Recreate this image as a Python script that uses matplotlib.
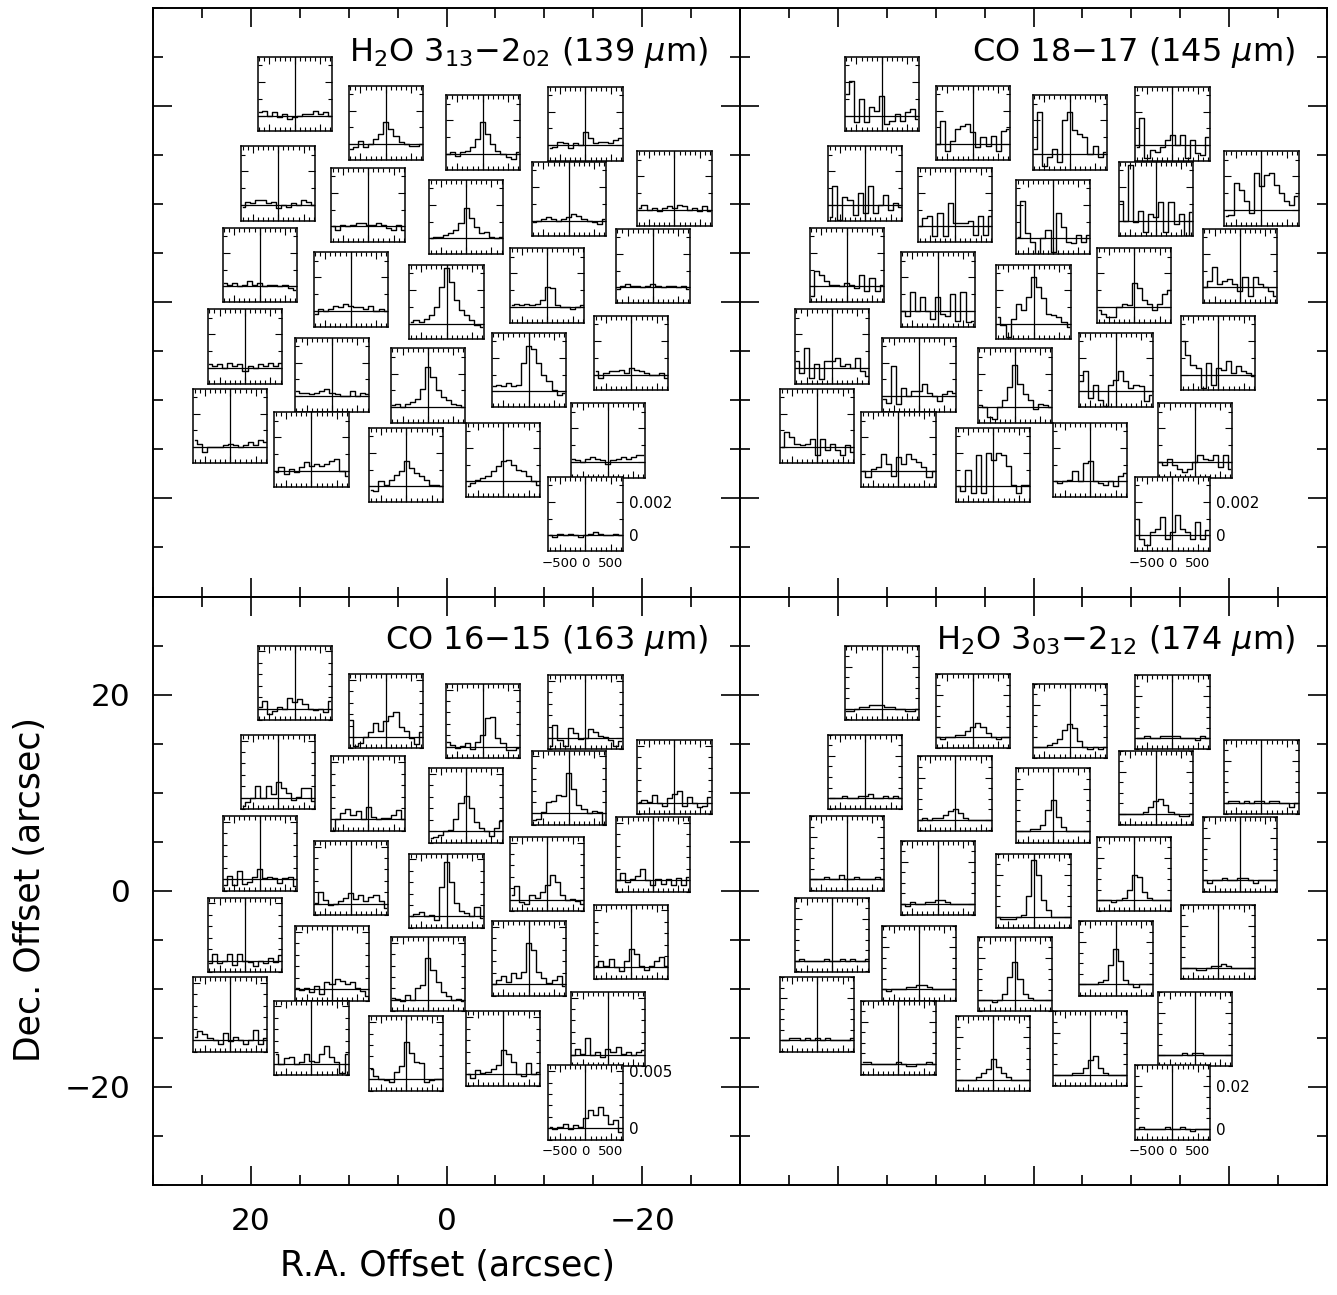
import numpy as np
import matplotlib.pyplot as plt
from matplotlib.ticker import MultipleLocator

# velocity channels (km/s)
vel = [-700, -600, -500, -400, -300, -200, -100, 0, 100, 200, 300, 400, 500, 600, 700]

# spaxel centres, offsets in arcsec (same footprint in all four maps)
ra_off = [15.5, 6.2, -3.7, -14.2, 17.2, 8.0, -2.0, -12.5, -23.3, 19.1, 9.8, 0.0, -10.3,
          -21.1, 20.6, 11.7, 1.9, -8.4, -18.9, 22.1, 13.8, 4.1, -5.8, -16.5, -14.2]
dec_off = [21.2, 18.3, 17.3, 18.2, 12.1, 9.9, 8.7, 10.5, 11.6, 3.8, 1.3, 0.0, 1.7,
           3.7, -4.5, -7.4, -8.5, -6.9, -5.2, -12.6, -15.0, -16.6, -16.1, -14.1, -21.6]

# spectra per spaxel (units of 1e-4 Jy, last map in 1e-3 Jy)
h2o_139 = [
    [2, 3, 0, 2, -1, 1, -2, -1, 0, 1, 1, 3, 1, 2, 0],
    [-3, -2, 2, -2, 0, 3, 6, 13, 9, 5, 1, 0, -1, -1, 0],
    [0, 1, -1, 1, 2, 4, 9, 19, 12, 6, 2, 0, -2, -3, 1],
    [-2, -1, 2, 1, -2, 1, 0, 8, 4, 1, 2, 2, 1, 3, 4],
    [-1, 2, 1, 3, 3, 1, 2, -2, 0, -1, 1, 0, 3, 2, 0],
    [0, -2, 1, 0, 1, 2, 2, 1, 1, 2, 1, -1, -2, 1, -2],
    [0, 1, 1, 2, 3, 5, 9, 18, 12, 7, 3, 4, 1, 0, 1],
    [-1, 0, 1, 2, 1, 0, 1, 2, 4, 3, 1, 0, -1, -2, 1],
    [1, 3, 0, 1, -1, 1, 2, 1, 3, 2, 0, 1, -1, 2, -1],
    [2, 1, 2, 0, 1, 3, 1, 2, 0, 1, 1, 0, 1, -1, -2],
    [-2, 1, 0, 1, 3, 2, 4, 3, 2, 2, 1, 3, 0, 1, 0],
    [1, 2, 1, 3, 5, 10, 22, 33, 25, 14, 8, 5, 2, -1, -2],
    [1, 2, 1, 2, 1, 2, 4, 12, 11, 1, 0, 0, -1, 0, 1],
    [-1, 1, 2, 1, 1, 0, 1, 2, 1, 0, 1, 1, 0, 1, -1],
    [2, 1, 2, 0, 3, 1, 2, -2, 1, 0, 2, 1, 3, 1, 3],
    [3, 2, 2, 1, 2, 3, 4, 2, 1, 0, 0, 3, 0, 2, 1],
    [1, 2, 0, 2, 3, 5, 11, 24, 18, 10, 6, 4, 2, 1, 0],
    [3, 4, 3, 5, 3, 4, 17, 27, 25, 17, 10, 6, 1, -2, -1],
    [2, -2, 1, 2, 2, 3, 1, 4, 3, 2, 1, 0, 0, 1, -2],
    [4, 2, -3, 0, 0, 0, 1, 2, 1, 0, 1, 3, 1, 4, 3],
    [-1, 2, -2, 1, -1, 2, 5, 3, 4, 3, 4, 6, 7, 0, -3],
    [-2, -3, 3, 1, 4, 7, 9, 15, 11, 8, 6, 4, 1, 1, 0],
    [-3, -1, 1, 2, 3, 6, 9, 12, 13, 10, 7, 6, 3, 0, -2],
    [2, 1, 0, 2, 3, 2, 1, -1, 1, 2, 3, 2, 3, 4, 4],
    [0, -1, 1, 0, 1, 0, -1, 0, 1, 2, 1, 0, 0, 1, 0],
]
co_1817 = [
    [13, 21, -4, 10, -4, 5, 3, 12, -5, -3, 1, -3, 2, 4, -2],
    [0, 14, -4, 2, 9, 11, 12, 7, -2, 4, -1, 5, -4, 8, 9],
    [3, 25, -7, -2, 3, -5, 20, 25, 14, 12, 10, 0, 5, -2, 1],
    [-1, 16, -8, -3, -4, -1, 3, 6, 0, 6, -8, 3, -5, -6, 5],
    [-7, 11, -9, 5, 3, -6, 7, -5, 11, -5, 0, 6, -3, 1, -1],
    [0, 5, 6, -6, 8, -6, 14, 2, 2, 2, 3, -5, 6, -5, 6],
    [1, 22, 3, -2, -10, 0, 5, -8, 15, 7, -2, -3, 2, -2, 2],
    [12, 0, 33, -1, 6, -7, 4, 2, 11, -7, 11, -2, 4, -9, 5],
    [-4, -3, 16, 12, 5, -2, 22, 14, 21, 22, 15, 10, 5, 3, 8],
    [-6, 9, 7, 3, 1, 1, 0, 2, 1, -1, 7, -3, 5, -3, 1],
    [0, -3, 11, 0, 8, 0, -5, 8, -2, -3, 10, -6, 11, -7, -6],
    [4, -1, -8, 3, 12, 8, 16, 28, 22, 15, 6, 5, 4, 1, -2],
    [-2, -4, -6, -6, 0, 2, 1, 14, 11, 4, 2, -2, 2, 8, 10],
    [0, 4, 12, 2, 4, 5, 2, -2, 6, -5, 6, 2, 0, -2, -5],
    [4, -3, 12, -6, 2, -7, 4, 4, 6, 1, 2, 0, 6, -2, -5],
    [-2, -4, 18, -5, 5, 0, 3, 3, 7, 2, 0, -3, 1, 3, 2],
    [1, 0, -6, -7, 0, 4, 12, 25, 14, 8, 4, -1, 2, 1, 0],
    [6, 12, -4, 4, -5, -9, 4, 7, 12, 6, 2, 4, 3, -6, -2],
    [20, 12, 6, 4, -8, 7, -6, 4, 3, 8, 1, 5, 2, 1, -1],
    [0, 9, 6, 2, 1, 2, 5, -5, 5, -2, 2, -2, -5, 1, -3],
    [0, -4, 1, 2, 10, 4, -3, 8, 4, 10, 7, 5, 2, -4, 0],
    [0, -3, 10, -4, 19, -4, 20, 16, 20, 19, 12, 1, -4, 1, 1],
    [0, -1, 0, 1, 6, 0, 11, 12, 0, -1, -2, 0, -3, 3, 5],
    [0, -2, 2, -2, -4, -6, -4, 0, 4, 2, 1, 4, -3, 4, -4],
    [10, -2, -6, 2, 4, 11, -2, 2, 12, 4, 2, -2, 8, -2, 3],
]
co_1615 = [
    [1, 7, -5, -2, 1, 0, 9, 6, 8, 4, 0, -1, 0, -3, 7],
    [15, -8, -5, 0, 4, 12, 5, 14, 18, 22, 9, 5, -1, -6, 4],
    [4, 2, -1, 1, 3, -2, 4, 10, 25, 26, 8, 3, -3, -3, -1],
    [-7, 11, -2, -7, 9, 4, -1, 0, 8, 5, 2, 1, -2, -7, -3],
    [-7, -4, 0, 10, 0, 10, 3, 14, 9, 4, -2, 1, 9, 9, -3],
    [-9, 0, 6, 9, 4, 7, 0, 11, 2, 0, 1, 1, 4, 8, 0],
    [-6, -5, -3, 0, 1, 11, 25, 31, 20, 8, 3, 0, -4, 3, 9],
    [-6, -5, 1, 10, 11, 16, 15, 35, 21, 7, 4, 0, 2, 1, -9],
    [1, 2, 1, 7, 0, -3, 4, 8, 10, -3, 5, 0, -4, -3, 5],
    [-5, 3, -5, 7, -4, -2, 2, 9, 1, 2, 1, -3, 1, 2, -6],
    [1, 10, 3, -1, 0, 2, 5, 9, 4, 8, 2, 6, 8, 2, -4],
    [0, 2, 4, 0, 1, -3, 26, 48, 30, 12, 5, 3, 0, 8, -1],
    [4, 12, -2, -4, 4, 2, 7, 13, 22, 16, 4, 0, 1, -1, -4],
    [0, 6, -2, 1, 4, 10, 0, -4, 1, -3, 1, -4, 2, -4, 3],
    [-2, 6, -2, 0, 6, -4, 6, 0, -1, -5, 0, -2, 2, -1, 5],
    [1, -1, 1, -3, 3, -4, 6, 4, 9, 7, 4, 6, 1, -2, -6],
    [2, 1, -1, 4, 0, 10, 13, 37, 26, 16, 7, 3, 0, 1, -1],
    [0, 4, 7, 2, 10, 5, 11, 36, 30, 11, 5, 1, 4, 7, -2],
    [1, 6, 1, 7, 0, -3, 6, 16, 12, 1, -2, 1, 6, 9, 1],
    [3, 8, 5, 2, 0, -3, 6, -1, 3, 0, -3, 0, 9, -3, 2],
    [8, 0, 5, 6, 0, 1, 8, 2, 1, 8, 15, 6, 1, -8, 8],
    [9, 3, 0, -1, -2, 6, 12, 33, 23, 15, 14, -2, -1, 0, 0],
    [0, -3, 4, 1, 2, 5, 8, 21, 18, 11, 0, -1, 10, 0, 2],
    [0, 5, 1, 15, 0, 2, -2, 5, 2, 7, 1, 2, 0, 2, 4],
    [1, -1, 1, 4, -1, 3, 1, 9, 16, 12, 19, 12, 4, 7, -3],
]
h2o_174 = [
    [-1, -1, 0, 1, 1, 2, 2, 2, 1, 1, 0, 0, -1, -1, 0],
    [0, -1, 0, 0, 1, 1, 3, 5, 7, 5, 2, 0, -1, 0, 0],
    [0, 0, 0, 1, 2, 4, 8, 11, 9, 3, 0, -1, 0, -1, 0],
    [0, 0, 1, 0, 0, 1, 1, 1, 1, 0, 0, 0, -1, 1, 0],
    [0, 0, 0, 1, 0, 0, 1, 1, 2, 0, 0, 1, 0, 1, 0],
    [0, 1, 0, 1, 1, 2, 4, 5, 3, 1, 0, 0, 0, 0, 0],
    [0, 0, 0, 1, 1, 3, 10, 15, 7, 2, 0, 0, 0, 0, 0],
    [0, 0, 0, 0, 0, 1, 3, 6, 7, 4, 1, 0, -1, -1, 0],
    [0, 1, 1, 0, 1, 0, 1, 1, 0, 1, 1, 0, 0, -2, 0],
    [0, 0, 0, 1, 0, 0, 2, 0, 0, 1, 0, 0, 0, 1, 0],
    [0, -1, 1, 0, 0, 1, 1, 2, 2, 1, 0, 0, 0, 0, 0],
    [0, -1, -1, -1, 0, 1, 10, 27, 20, 8, 3, 0, 0, 0, 0],
    [0, 0, 0, -1, 0, 1, 5, 12, 11, 4, 1, 0, 0, 0, 0],
    [0, -1, 0, 0, 1, 0, 0, 1, 1, 0, -1, 0, 0, 0, 0],
    [0, 1, 0, 0, 0, 0, 1, 0, 0, 1, 0, 1, 0, 0, 1],
    [0, -1, 0, 0, 0, 1, 1, 2, 2, 1, 0, 0, 0, 0, 0],
    [0, 0, 0, -1, 0, 3, 11, 18, 10, 3, 1, 0, 0, 0, 0],
    [0, 0, 0, 0, 1, 2, 9, 17, 11, 2, 0, -1, 0, 0, 0],
    [0, 0, 0, -1, -1, 0, 1, 1, 2, 1, 0, 0, 0, 0, 0],
    [0, 0, 1, 1, 0, 1, 0, 1, 0, 1, 0, 0, 0, 0, 1],
    [1, 1, 0, 0, 0, 0, 0, 1, 0, -1, -1, 0, 0, 1, 0],
    [0, 0, 0, 0, 1, 3, 5, 10, 6, 3, 1, 0, 0, 0, 0],
    [0, 0, 0, 0, 1, 1, 3, 7, 9, 3, 1, 0, 0, 0, 0],
    [0, 0, 0, 0, 0, 1, 0, 1, 1, 0, 0, 0, 0, 0, 0],
    [0, 1, 0, 0, 0, 0, 1, 0, 0, 1, 0, -1, 0, 0, 0],
]

titles = [r'H$_2$O 3$_{13}$$-$2$_{02}$ (139 $\mu$m)', r'CO 18$-$17 (145 $\mu$m)',
          r'CO 16$-$15 (163 $\mu$m)', r'H$_2$O 3$_{03}$$-$2$_{12}$ (174 $\mu$m)']
spectra = [h2o_139, co_1817, co_1615, h2o_174]
units = [1e-4, 1e-4, 1e-4, 1e-3]
ylims = [(-0.00095, 0.0035), (-0.00095, 0.0035), (-0.001, 0.0055), (-0.0053, 0.030)]
ytick_vals = [[0, 0.002], [0, 0.002], [0, 0.005], [0, 0.02]]
ytick_labels = [['0', '0.002'], ['0', '0.002'], ['0', '0.005'], ['0', '0.02']]
yminor = [0.001, 0.001, 0.001, 0.005]

# panel positions in figure pixels: left, top
W, H = 1337, 1295
pw, ph = 587, 588.5
panel_pos = [(153, 8), (740, 8), (153, 596.5), (740, 596.5)]
box = 7.58  # arcsec

fig = plt.figure(figsize=(W / 100, H / 100), dpi=100)

for p in range(4):
    x0, y0 = panel_pos[p]
    ax = fig.add_axes([x0 / W, 1 - (y0 + ph) / H, pw / W, ph / H])
    ax.set_xlim(30, -30)
    ax.set_ylim(-30, 30)
    ax.xaxis.set_major_locator(MultipleLocator(20))
    ax.xaxis.set_minor_locator(MultipleLocator(5))
    ax.yaxis.set_major_locator(MultipleLocator(20))
    ax.yaxis.set_minor_locator(MultipleLocator(5))
    ax.tick_params(which='both', direction='in', top=True, right=True, width=1.2,
                   labelsize=22.5, pad=16)
    ax.tick_params(which='major', length=14)
    ax.tick_params(which='minor', length=7)
    if p != 2:
        ax.tick_params(labelbottom=False, labelleft=False)
    for s in ax.spines.values():
        s.set_linewidth(1.4)
    ax.text(0.945, 0.91, titles[p], transform=ax.transAxes, ha='right',
            va='baseline', fontsize=23)

    for i in range(25):
        fx = (30 - ra_off[i]) / 60
        fy = (dec_off[i] + 30) / 60
        w = box / 60
        sub = ax.inset_axes([fx - w / 2, fy - w / 2, w, w])
        flux = np.array(spectra[p][i]) * units[p]
        sub.step(vel, flux, where='mid', color='k', lw=1.0)
        sub.axhline(0, color='k', lw=0.9)
        sub.axvline(0, color='k', lw=0.9)
        sub.set_xlim(-730, 730)
        sub.set_ylim(*ylims[p])
        sub.set_xticks([-500, 0, 500], labels=['\u2212500', '0', '500'])
        sub.xaxis.set_minor_locator(MultipleLocator(100))
        sub.set_yticks(ytick_vals[p], labels=ytick_labels[p])
        sub.yaxis.set_minor_locator(MultipleLocator(yminor[p]))
        sub.tick_params(which='both', direction='in', top=True, right=True,
                        width=0.8, pad=5, labelleft=False, labelbottom=False)
        sub.tick_params(which='major', length=5)
        sub.tick_params(which='minor', length=3)
        if i == 24:
            sub.tick_params(labelright=True, labelbottom=True)
            sub.tick_params(axis='y', labelsize=11)
            sub.tick_params(axis='x', labelsize=9.5, pad=4)
        for s in sub.spines.values():
            s.set_linewidth(1.1)

fig.text(30 / W, 1 - 890 / H, 'Dec. Offset (arcsec)', rotation=90,
         ha='center', va='center', fontsize=25)
fig.text(447 / W, 1 - 1266 / H, 'R.A. Offset (arcsec)', ha='center',
         va='center', fontsize=25)

fig.savefig('out.png', dpi=100)
